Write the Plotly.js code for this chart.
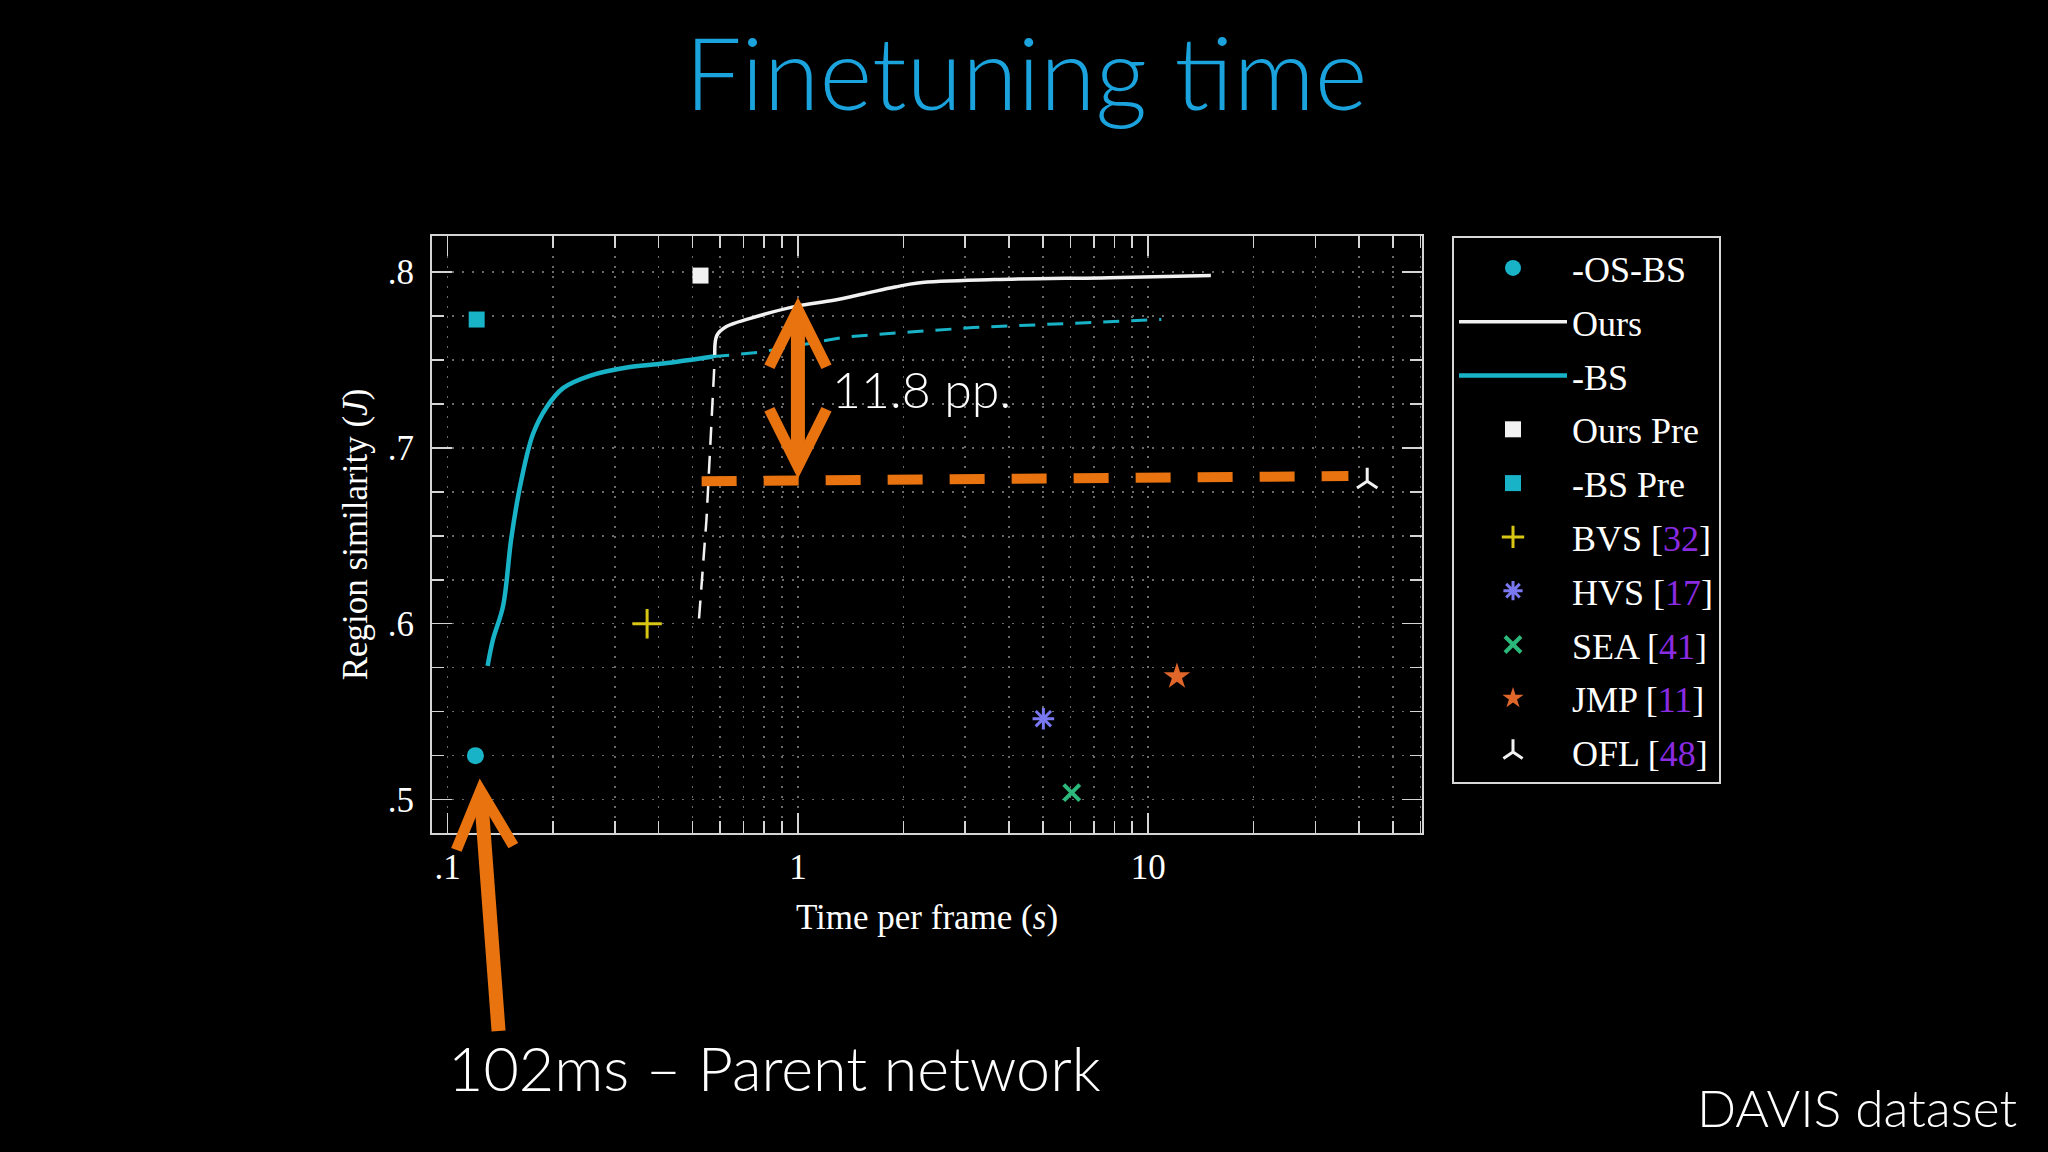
<!DOCTYPE html>
<html><head><meta charset="utf-8">
<script src="https://cdn.plot.ly/plotly-3.0.1.min.js"></script>
<style>html,body{margin:0;padding:0;background:#000;} #chart{width:2048px;height:1152px;}</style>
</head><body><div id="chart"></div>
<script>
// ---- data ----
const bsX = [0.130, 0.1347, 0.1439, 0.152, 0.1624, 0.1753, 0.1914, 0.2135, 0.2544, 0.331, 0.412, 0.573];
const bsY = [0.576, 0.591, 0.610, 0.649, 0.682, 0.708, 0.723, 0.734, 0.741, 0.746, 0.748, 0.752];
const bsDashX = [0.573, 0.641, 0.784, 1.380, 2.09, 3.16, 5.79, 10.9];
const bsDashY = [0.752, 0.7527, 0.7545, 0.7632, 0.7659, 0.7684, 0.7707, 0.773];
const oursDashX = [0.522, 0.548, 0.5606, 0.573, 0.579];
const oursDashY = [0.603, 0.659, 0.697, 0.735, 0.752];
const oursX = [0.579, 0.587, 0.625, 0.727, 0.983, 1.265, 1.547, 1.893, 2.202, 3.64, 7.74, 15.1];
const oursY = [0.752, 0.764, 0.769, 0.7735, 0.7805, 0.784, 0.7877, 0.7915, 0.7938, 0.7957, 0.7968, 0.798];
const osbsX = [0.120], osbsY = [0.525];
const oursPreX = [0.527], oursPreY = [0.798];
const bsPreX = [0.121], bsPreY = [0.773];
const bvsX = [0.371], bvsY = [0.600];
const hvsX = [5.02], hvsY = [0.546];
const seaX = [6.05], seaY = [0.504];
const jmpX = [12.08], jmpY = [0.570];
const oflX = [42.2], oflY = [0.681];
const gapLineX = [0.531, 37.3], gapLineY = [0.681, 0.684];
const xTickVals = [0.1, 1, 10], xTickText = ['.1', '1', '10'];
const yTickVals = [0.5, 0.6, 0.7, 0.8], yTickText = ['.5', '.6', '.7', '.8'];
const gapArrow = {x: 1, yTop: 0.7856, yBottom: 0.6816};
const parentArrow = {x: 0.1234, y: 0.512};

const CYAN = '#19b3c8', WHITE = '#f2f2f2', ORANGE = '#e8730f', PURPLE = '#8a2be2';
const serif = 'Liberation Serif, Times New Roman, serif';
const thin = 'Lato, Inter, sans-serif';
const ref = n => '[<span style="color:' + PURPLE + '">' + n + '</span>]';

const traces = [
  {x: osbsX, y: osbsY, name: '-OS-BS', mode: 'markers', marker: {symbol: 'circle', size: 17, color: CYAN}},
  {x: oursDashX, y: oursDashY, mode: 'lines', showlegend: false, line: {color: WHITE, width: 2.5, dash: '18px,11px'}},
  {x: gapLineX, y: gapLineY, mode: 'lines', showlegend: false, line: {color: ORANGE, width: 10, dash: '35px,27px'}},
  {x: oursX, y: oursY, name: 'Ours', mode: 'lines', line: {color: WHITE, width: 3.5, shape: 'spline'}},
  {x: bsX, y: bsY, name: '-BS', mode: 'lines', line: {color: CYAN, width: 4.5, shape: 'spline'}},
  {x: bsDashX, y: bsDashY, mode: 'lines', showlegend: false, line: {color: CYAN, width: 3, dash: '16px,12px'}},
  {x: oursPreX, y: oursPreY, name: 'Ours Pre', mode: 'markers', marker: {symbol: 'square', size: 16, color: WHITE}},
  {x: bsPreX, y: bsPreY, name: '-BS Pre', mode: 'markers', marker: {symbol: 'square', size: 16, color: CYAN}},
  {x: bvsX, y: bvsY, name: 'BVS ' + ref(32), mode: 'markers', marker: {symbol: 'cross-thin', size: 21, color: '#d9c514', line: {color: '#d9c514', width: 3}}},
  {x: hvsX, y: hvsY, name: 'HVS ' + ref(17), mode: 'markers', marker: {symbol: 'asterisk', size: 18, color: '#7a78f0', line: {color: '#7a78f0', width: 3}}},
  {x: seaX, y: seaY, name: 'SEA ' + ref(41), mode: 'markers', marker: {symbol: 'x-thin', size: 16, color: '#2cb87a', line: {color: '#2cb87a', width: 4}}},
  {x: jmpX, y: jmpY, name: 'JMP ' + ref(11), mode: 'markers', marker: {symbol: 'star', size: 20, color: '#e0662a'}},
  {x: oflX, y: oflY, name: 'OFL ' + ref(48), mode: 'markers', marker: {symbol: 'y-up', size: 17, color: WHITE, line: {color: WHITE, width: 3}}}
];
// each legend entry in its own group so that tracegroupgap spaces the rows
traces.forEach((t, i) => { t.legendgroup = 'g' + i; });

const gridCol = '#6a6a6a';
const axisCommon = {
  showline: true, linecolor: '#d4d4d4', linewidth: 2, mirror: 'allticks',
  ticks: 'inside', tickcolor: '#d4d4d4', tickwidth: 1.5, ticklen: 20,
  showgrid: true, gridcolor: gridCol, gridwidth: 1.5, griddash: '2px,8px',
  zeroline: false, tickfont: {family: serif, size: 35, color: '#ffffff'},
  automargin: false
};

const layout = {
  width: 2048, height: 1152,
  paper_bgcolor: '#000', plot_bgcolor: '#000',
  margin: {l: 432, r: 626, t: 236, b: 319},
  title: {text: 'Finetuning time', x: 0.501, xanchor: 'center', y: 0.935, yanchor: 'middle', yref: 'container',
          font: {family: thin, weight: 300, size: 101, color: '#1ba3dd'}},
  xaxis: Object.assign({}, axisCommon, {
    type: 'log', range: [Math.log10(0.0902), Math.log10(60.5)],
    tickmode: 'array', tickvals: xTickVals, ticktext: xTickText, ticklabelstandoff: 2,
    minor: {tickmode: 'linear', dtick: 'D1', ticks: 'inside', ticklen: 12, tickcolor: '#d4d4d4', tickwidth: 1.5,
            showgrid: true, gridcolor: gridCol, gridwidth: 1.5, griddash: '2px,8px'},
    title: {text: 'Time per frame (<i>s</i>)', font: {family: serif, size: 35, color: '#fff'}, standoff: 18}
  }),
  yaxis: Object.assign({}, axisCommon, {
    range: [0.481, 0.8205],
    tickmode: 'array', tickvals: yTickVals, ticktext: yTickText, ticklabelstandoff: 9,
    minor: {tickmode: 'linear', tick0: 0.5, dtick: 0.025, ticks: 'inside', ticklen: 12, tickcolor: '#d4d4d4', tickwidth: 1.5,
            showgrid: true, gridcolor: gridCol, gridwidth: 1.5, griddash: '2px,8px'},
    title: {text: 'Region similarity (<i>J</i>)', font: {family: serif, size: 35, color: '#fff'}, standoff: 10}
  }),
  legend: {x: 1.0303, xanchor: 'left', y: 1, yanchor: 'top', bgcolor: '#000', bordercolor: '#d8d8d8', borderwidth: 2,
           font: {family: serif, size: 36, color: '#fff'}, itemwidth: 108, tracegroupgap: 4, traceorder: 'grouped'},
  showlegend: true,
  annotations: [
    {x: Math.log10(gapArrow.x), y: gapArrow.yTop, xref: 'x', yref: 'y', text: '', showarrow: true,
     ax: 0, ay: 0, axref: 'x', ayref: 'y',
     arrowhead: 5, startarrowhead: 5, arrowside: 'end+start', arrowwidth: 14, arrowsize: 0.8, startarrowsize: 0.8, arrowcolor: ORANGE},
    {x: Math.log10(parentArrow.x), y: parentArrow.y, xref: 'x', yref: 'y', text: '', showarrow: true,
     ax: 19, ay: 254, arrowhead: 5, arrowwidth: 14, arrowsize: 0.8, arrowcolor: ORANGE},
    {x: 0.4024, y: 0.744, xref: 'paper', yref: 'paper', xanchor: 'left', yanchor: 'middle', showarrow: false,
     text: '11.8 pp.', font: {family: thin, weight: 300, size: 50, color: '#fff'}},
    {x: 0.014, y: -0.393, xref: 'paper', yref: 'paper', xanchor: 'left', yanchor: 'middle', showarrow: false,
     text: '102ms – Parent network', font: {family: thin, weight: 300, size: 61, color: '#fff'}},
    {x: 1.6026, y: -0.459, xref: 'paper', yref: 'paper', xanchor: 'right', yanchor: 'middle', showarrow: false,
     text: 'DAVIS dataset', font: {family: thin, weight: 300, size: 51.5, color: '#fff'}}
  ]
};
// bottom end of the double arrow in data units
layout.annotations[0].ax = Math.log10(gapArrow.x);
layout.annotations[0].ay = gapArrow.yBottom;

Plotly.newPlot('chart', traces, layout, {displayModeBar: false, staticPlot: true});
</script>
</body></html>
